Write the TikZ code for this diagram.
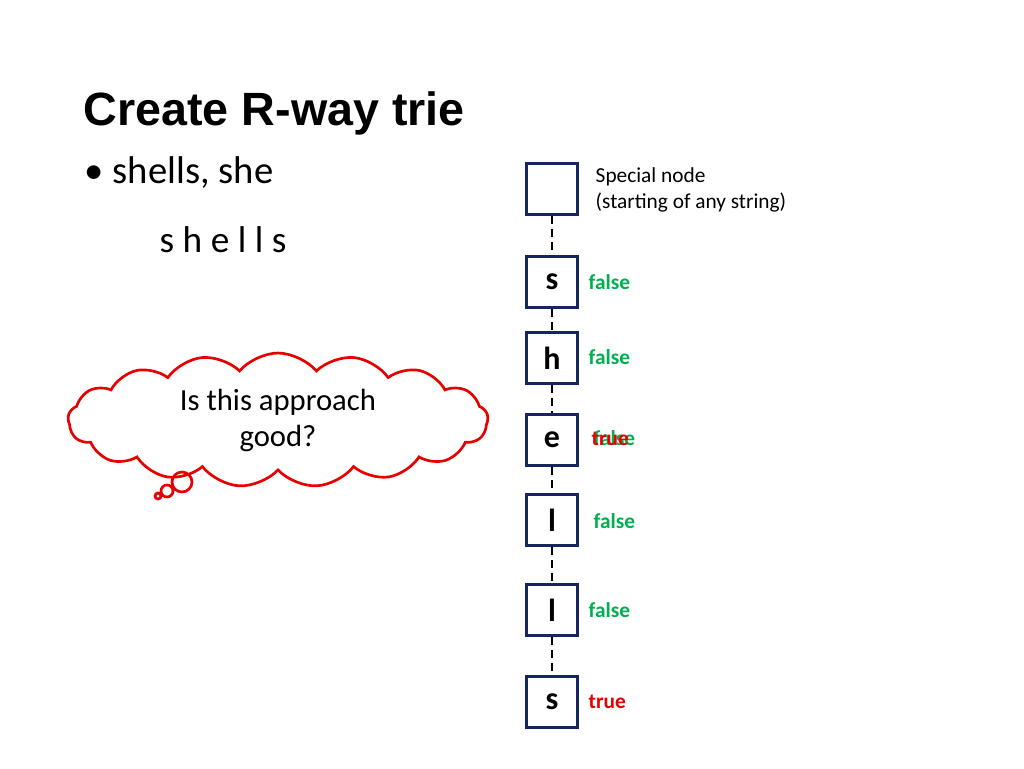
\documentclass[tikz,border=0pt]{standalone}
\usepackage{fontspec}
\setmainfont{Carlito}
\newfontfamily\titlefont{Liberation Sans}
\usetikzlibrary{shapes.symbols}
\definecolor{boxblue}{RGB}{23,38,94}
\definecolor{flaggreen}{RGB}{0,176,80}
\definecolor{flagred}{RGB}{230,0,0}
\begin{document}
\begin{tikzpicture}[x=0.75pt,y=-0.75pt,
  trie node/.style={draw=boxblue,line width=2.2pt,minimum size=38pt,inner sep=0pt,font=\fontsize{24}{24}\selectfont\bfseries},
  flag/.style={anchor=west,font=\fontsize{16}{16}\selectfont\bfseries}]
  \useasboundingbox (0,0) rectangle (1024,768);
  \node[anchor=west,font=\titlefont\fontsize{35}{35}\selectfont\bfseries] (title) at (79,113) {Create R-way trie};
  \node[anchor=west,font=\fontsize{29}{29}\selectfont] (words) at (80,173) {\textbullet\ shells, she};
  \node[anchor=west,font=\fontsize{28}{28}\selectfont] (letters) at (155,240) {s h e l l s};
  \foreach \n/\y/\t in {root/189/{},s1/282/s,h/358/h,e/440/e,l1/520/l,l2/610/l,s2/702/s}
    \node[trie node] (\n) at (552,\y) {\t};
  \foreach \a/\b in {root/s1,s1/h,h/e,e/l1,l1/l2,l2/s2}
    \draw[dash pattern=on 6pt off 4pt,thick] (\a) -- (\b);
  \node[anchor=west,align=left,font=\fontsize{16}{19}\selectfont] (special) at (591,190) {Special node\\(starting of any string)};
  \node[flag,text=flaggreen] (fs1) at (584,282) {false};
  \node[flag,text=flaggreen] (fh) at (584,357) {false};
  \node[flag,text=flaggreen] (fe) at (589,438) {false};
  \node[flag,text=flagred] (te) at (587,439) {true};
  \node[flag,text=flaggreen] (fl1) at (589,521) {false};
  \node[flag,text=flaggreen] (fl2) at (584,610) {false};
  \node[flag,text=flagred] (ts2) at (584,702) {true};
  \node[cloud,draw=flagred,line width=2pt,cloud puffs=17,cloud puff arc=100,aspect=4,minimum width=315pt,minimum height=80pt,align=center,font=\fontsize{23}{27}\selectfont] (cloud) at (278,420) {Is this approach\\good?};
  \draw[flagred,line width=2pt] (182,482) circle (10) (167,491) circle (6) (158,496) circle (3);
\end{tikzpicture}
\end{document}
